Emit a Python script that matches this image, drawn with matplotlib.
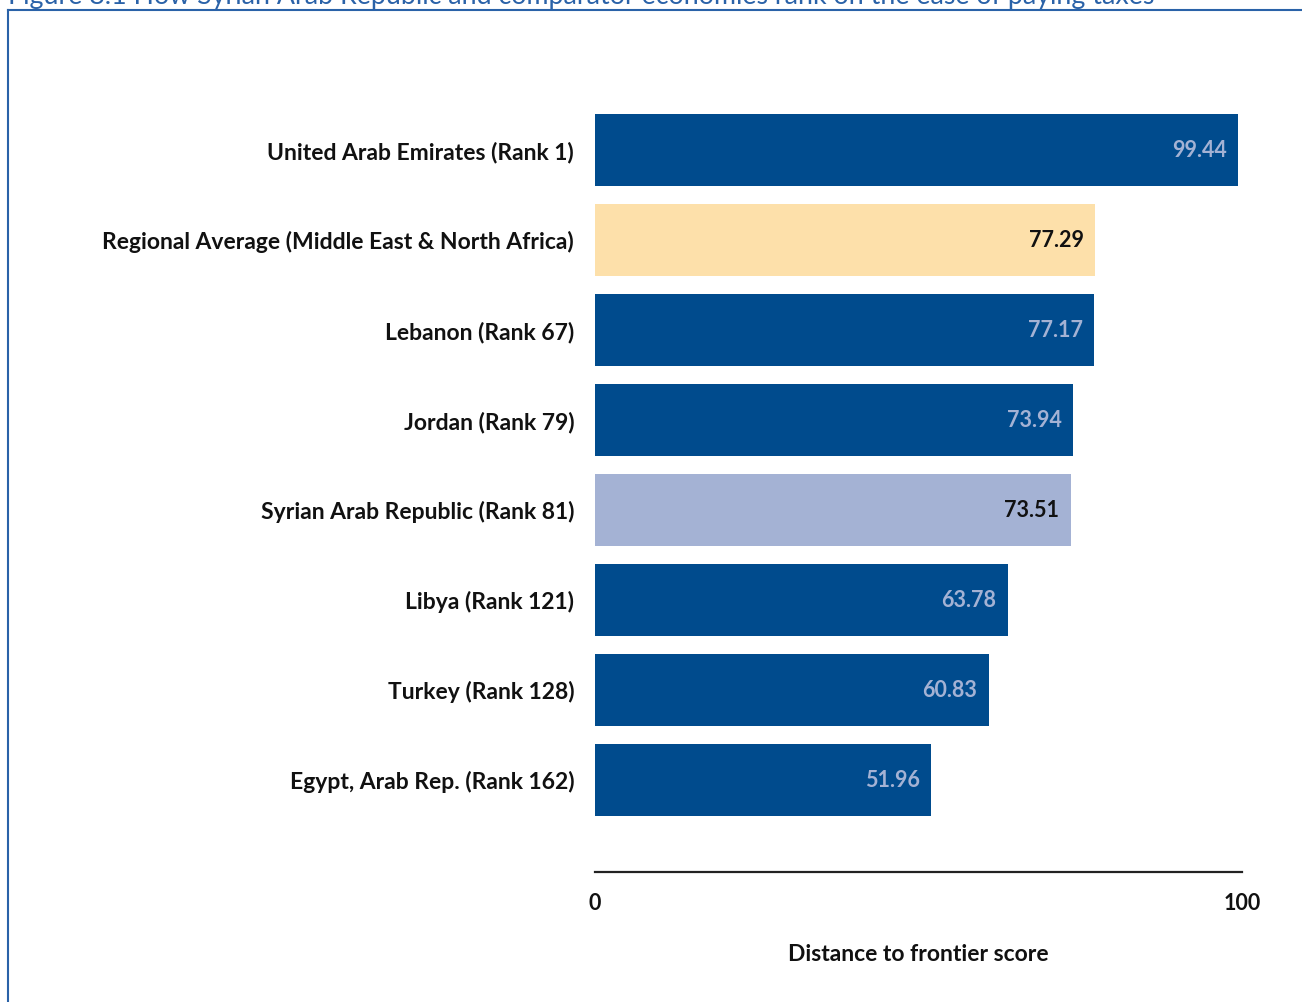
import matplotlib.pyplot as plt
from matplotlib.lines import Line2D

# data
labels = [
    "United Arab Emirates (Rank 1)",
    "Regional Average (Middle East & North Africa)",
    "Lebanon (Rank 67)",
    "Jordan (Rank 79)",
    "Syrian Arab Republic (Rank 81)",
    "Libya (Rank 121)",
    "Turkey (Rank 128)",
    "Egypt, Arab Rep. (Rank 162)",
]
scores = [99.44, 77.29, 77.17, 73.94, 73.51, 63.78, 60.83, 51.96]
kinds = ["other", "region", "other", "other", "focus", "other", "other", "other"]

bar_colors = {"other": "#004b8d", "region": "#fde0aa", "focus": "#a4b2d4"}
text_colors = {"other": "#a4b2d4", "region": "#111111", "focus": "#111111"}

plt.rcParams['font.family'] = ['Lato', 'DejaVu Sans']

fig = plt.figure(figsize=(13.02, 10.02), dpi=100)
ax = fig.add_axes([595 / 1302, 130 / 1002, 647 / 1302, 767 / 1002])

ypos = list(range(len(labels)))
ax.barh(ypos, scores, height=0.8,
        color=[bar_colors[k] for k in kinds], edgecolor="none")

for y, v, k in zip(ypos, scores, kinds):
    ax.annotate(f"{v:.2f}", xy=(v, y), xytext=(-8, 0), textcoords="offset points",
                ha="right", va="center", fontsize=15.5, fontweight="bold",
                color=text_colors[k])

ax.set_xlim(0, 100)
ax.set_ylim(8.022, -0.5)
ax.set_yticks(ypos)
ax.set_yticklabels(labels, fontsize=16.5, fontweight="bold", color="#111111")
ax.set_xticks([0, 100])
ax.set_xticklabels(["0", "100"], fontsize=15.5, fontweight="bold", color="#111111")
ax.tick_params(axis="y", length=0, pad=15)
ax.tick_params(axis="x", length=0, pad=15)
for s in ["top", "right", "left"]:
    ax.spines[s].set_visible(False)
ax.spines["bottom"].set_linewidth(1.6)
ax.spines["bottom"].set_color("#222222")
ax.set_xlabel("Distance to frontier score", fontsize=16.5, fontweight="bold",
              color="#111111", labelpad=22)

# frame and cut-off title from the original page
fig.add_artist(Line2D([8 / 1302, 8 / 1302], [0, 1 - 10 / 1002],
                      transform=fig.transFigure, color="#2a62a8", lw=1.5))
fig.add_artist(Line2D([8 / 1302, 1], [1 - 10 / 1002, 1 - 10 / 1002],
                      transform=fig.transFigure, color="#2a62a8", lw=1.5))
fig.text(8 / 1302, 1 - 4 / 1002,
         "Figure 8.1 How Syrian Arab Republic and comparator economies rank on the ease of paying taxes",
         ha="left", va="baseline", fontsize=19.3, color="#2a62a8")

fig.savefig("out.png", dpi=100)
